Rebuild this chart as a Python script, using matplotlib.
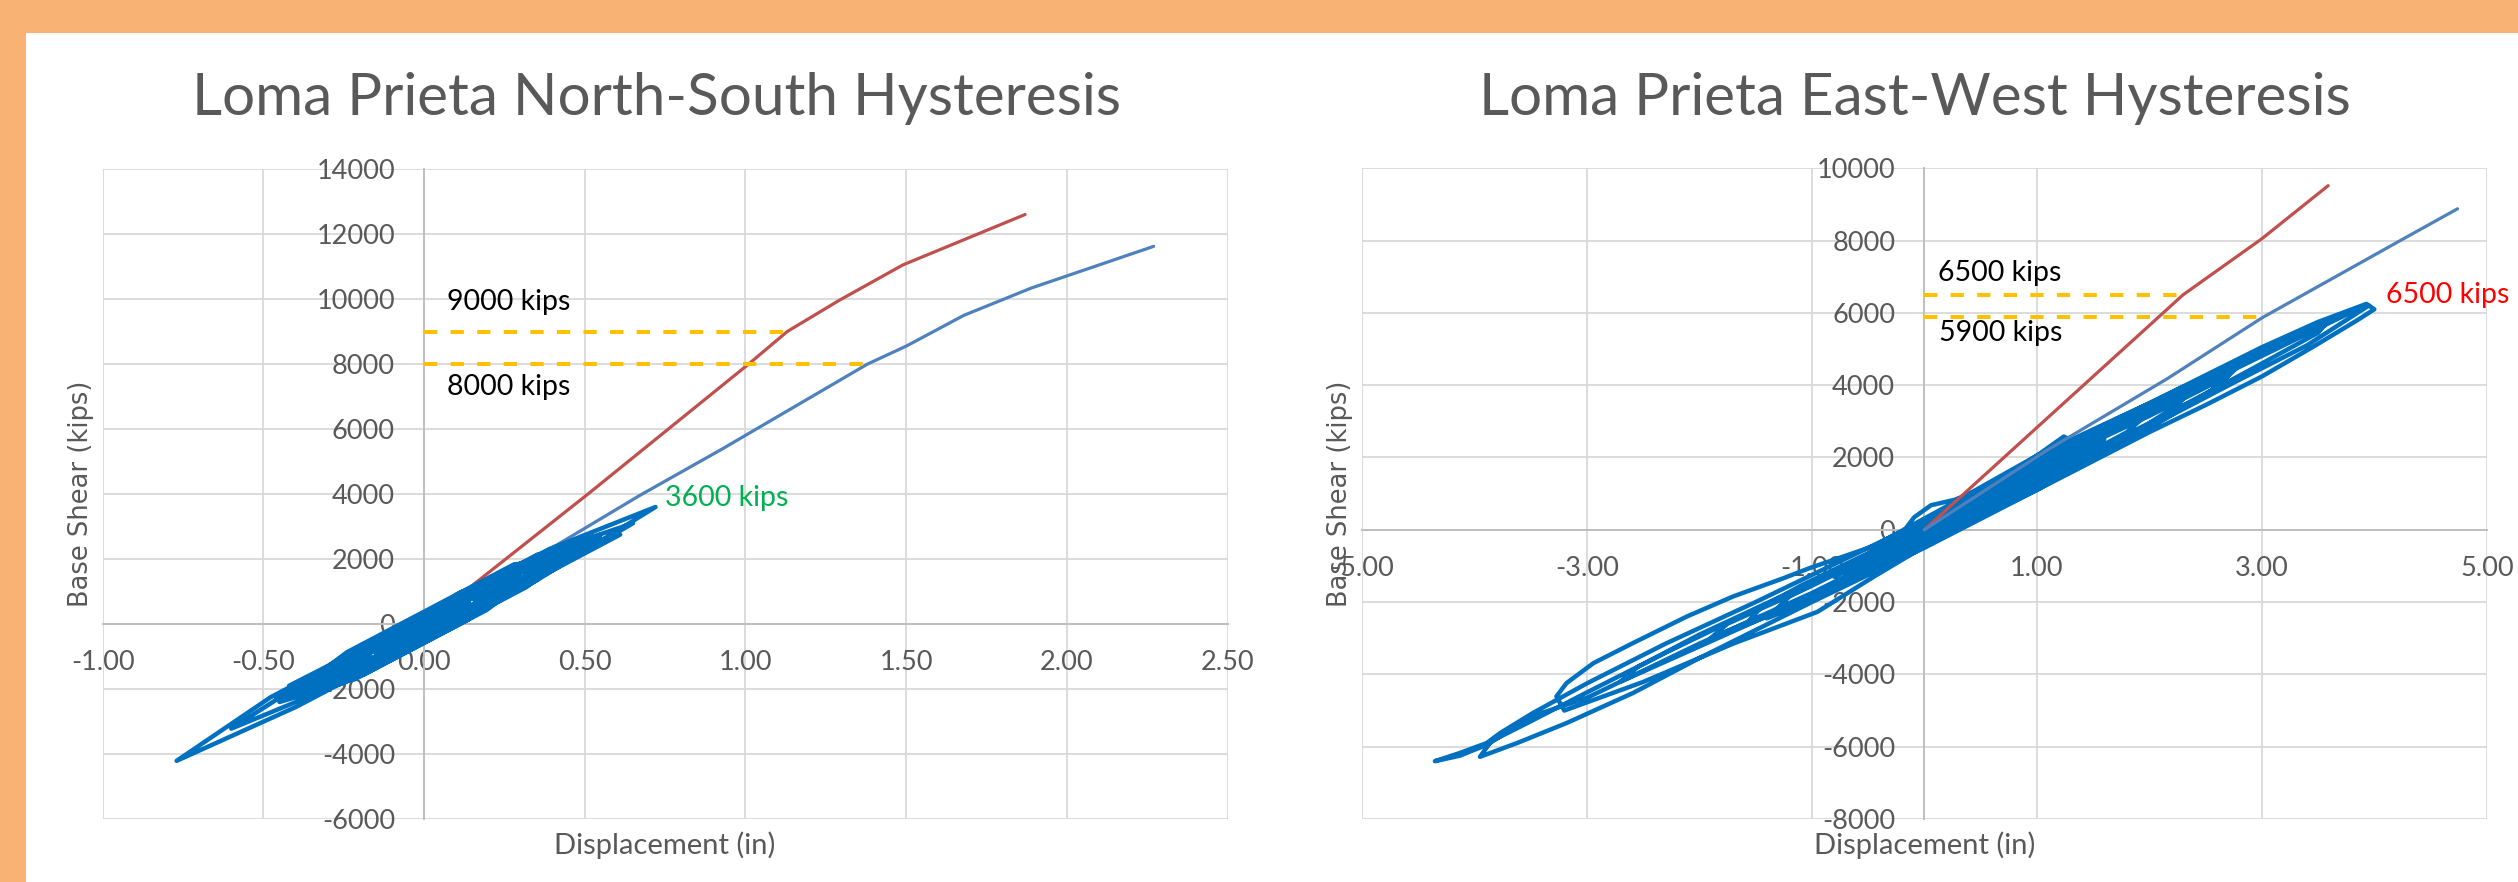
import matplotlib
matplotlib.use("Agg")
import matplotlib.pyplot as plt
from matplotlib.patches import Rectangle

plt.rcParams['font.family'] = ['Lato', 'DejaVu Sans']

# ---------------- data ----------------
# North-South hysteresis (displacement in, base shear kips)
ns_hyst_disp = [0.00, 0.02, 0.06, 0.08, 0.045, -0.025, -0.06, -0.01, 0.09, 0.14,
                0.0675, -0.0775, -0.15, -0.0575, 0.1275, 0.22, 0.11, -0.11, -0.22, -0.09,
                0.17, 0.30, 0.15, -0.15, -0.30, -0.13, 0.21, 0.38, 0.195, -0.175,
                -0.36, -0.1575, 0.2475, 0.45, 0.2325, -0.2025, -0.42, -0.185, 0.285, 0.52,
                0.275, -0.215, -0.46, -0.1925, 0.3425, 0.61, 0.3475, -0.1775, -0.44, -0.1675,
                0.3775, 0.65, 0.3375, -0.2875, -0.60, -0.27, 0.39, 0.72, 0.3475, -0.3975,
                -0.77, -0.4775, 0.1075, 0.40, 0.2125, -0.1625, -0.35, -0.1875, 0.1375, 0.30,
                0.155, -0.135, -0.28, -0.16, 0.08, 0.20, 0.10, -0.10, -0.20, -0.12,
                0.04, 0.12, 0.065, -0.045, -0.10, -0.0625, 0.0125, 0.05, 0.03, -0.01,
                -0.03, 0.0975, 0.3525, 0.48, 0.26, -0.18, -0.40, -0.2125, 0.1625, 0.35,
                0.15, -0.25, -0.45, -0.20, 0.30, 0.55, 0.3175, -0.1475, -0.38, -0.18,
                0.22, 0.42, 0.235, -0.135, -0.32, -0.1775, 0.1075, 0.25, 0.125, -0.125,
                -0.25, -0.1425, 0.0725, 0.18, 0.105, -0.045, -0.12, 0.00, 0.10, 0.28,
                0.40, 0.195, -0.215, -0.42, -0.24, 0.12, 0.30, 0.1375, -0.1875, -0.35,
                -0.2375, -0.0125, 0.10, 0.00]
ns_hyst_shear = [0, 84, 292, 350, 14, -350, -420, -2, 518, 650,
                 71, -683, -900, -179, 783, 1100, 222, -922, -1250, -288,
                 1064, 1500, 380, -1180, -1700, -456, 1312, 1950, 584, -1340,
                 -1950, -579, 1527, 2350, 759, -1503, -1900, -712, 1732, 2700,
                 980, -1568, -2280, -751, 2031, 2750, 1377, -1353, -2300, -641,
                 2193, 3100, 1305, -1945, -3220, -1124, 2308, 3600, 1327, -2547,
                 -4210, -2253, 789, 2000, 705, -1245, -1950, -775, 915, 1450,
                 426, -1082, -1600, -682, 566, 950, 200, -840, -1150, -544,
                 288, 500, 88, -484, -650, -325, 65, 150, -24, -232,
                 -250, 807, 2133, 2400, 852, -1436, -2150, -785, 1165, 1750,
                 260, -1820, -2400, -740, 1860, 2750, 1131, -1287, -2050, -616,
                 1464, 2100, 722, -1202, -1800, -643, 839, 1200, 200, -1100,
                 -1400, -521, 597, 850, 196, -584, -750, -100, 900, 1836,
                 1950, 434, -1698, -2200, -868, 1004, 1450, 135, -1555, -1950,
                 -985, 185, 300, -50]

ns_red_disp = [0.00, 0.13, 0.51, 1.01, 1.13, 1.29, 1.49, 1.87]
ns_red_shear = [0, 1030, 4000, 8000, 9000, 9950, 11050, 12600]

ns_pb_disp = [0.00, 0.44, 0.67, 0.93, 1.38, 1.50, 1.68, 1.89, 2.27]
ns_pb_shear = [0, 2590, 3950, 5400, 8000, 8550, 9500, 10340, 11620]

ns_limits = [9000, 8000]
ns_limit_ends = [1.13, 1.38]

# East-West hysteresis
ew_hyst_disp = [0.00, -0.25, -0.15, -0.09, 0.06, 0.27, 0.60, 1.00, 1.24, 1.32,
                1.10, 0.70, 0.30, 0.00, -0.60, -1.20, -1.60, -1.45, -1.10, -0.50,
                0.20, 1.00, 1.80, 2.40, 2.25, 1.80, 1.00, 0.12, -0.45, -0.95,
                -1.70, -2.50, -3.20, -3.27, -3.18, -2.94, -2.59, -2.11, -1.70, -1.25,
                -1.02, -0.45, 0.20, 1.00, 2.00, 3.00, 3.50, 3.93, 4.00, 3.85,
                3.46, 3.00, 2.50, 2.00, 1.00, 0.00, -1.00, -2.00, -2.59, -3.18,
                -3.62, -3.95, -3.85, -3.50, -3.00, -2.30, -1.50, -0.50, 0.50, 1.50,
                2.50, 3.16, 3.75, 3.95, 3.80, 3.40, 2.80, 2.00, 1.00, 0.00,
                -1.00, -2.00, -3.00, -3.48, -3.89, -4.13, -4.35, -4.13, -3.89, -3.77,
                -3.48, -3.00, -2.30, -1.50, -0.50, 0.50, 1.50, 2.50, 3.20, 3.60,
                3.50, 3.00, 2.20, 1.20, 0.20, -0.80, -1.80, -2.70, -2.55, -2.00,
                -1.00, 0.00, 1.00, 2.00, 2.70, 2.55, 2.00, 1.00, 0.00, -1.00,
                -1.90, -1.75, -1.00, 0.00, 1.00, 1.60, 1.40, 0.60, -0.30, -0.80,
                -0.60, 0.00, 0.50, 1.50, 2.30, 2.80, 2.60, 2.00, 1.00, 0.00,
                -1.00, -1.40, -1.20, -0.50, 0.50, 1.50, 2.00, 1.80, 1.00, 0.00,
                -0.70, -0.50, 0.00]
ew_hyst_shear = [0, -380, 100, 346, 680, 830, 1250, 2050, 2580, 2450,
                 1900, 1050, 250, -350, -1300, -2150, -2650, -2150, -1550, -650,
                 450, 1850, 3050, 3950, 3450, 2550, 1100, -240, -1300, -2270,
                 -3150, -4210, -5000, -4610, -4240, -3687, -3134, -2398, -1845, -1337,
                 -1060, -450, 650, 2050, 3500, 5050, 5750, 6250, 6100, 5800,
                 5070, 4240, 3450, 2700, 1100, -500, -2000, -3550, -4516, -5346,
                 -5899, -6280, -5850, -5300, -4500, -3400, -2200, -700, 900, 2500,
                 4050, 5050, 5950, 6200, 5900, 5100, 4150, 2850, 1350, -200,
                 -1750, -3150, -4650, -5150, -5950, -6250, -6400, -6175, -5899, -5622,
                 -5069, -4250, -3150, -2000, -500, 1000, 2650, 4150, 5250, 5800,
                 5450, 4600, 3250, 1600, 0, -1550, -2950, -4200, -3800, -2900,
                 -1450, 100, 1700, 3150, 4250, 3850, 2950, 1400, -150, -1800,
                 -3000, -2600, -1550, 0, 1550, 2500, 2100, 800, -500, -1300,
                 -900, 0, 1150, 2750, 3950, 4550, 3950, 2800, 1150, -450,
                 -1950, -2450, -1850, -700, 850, 2450, 3250, 2700, 1350, -200,
                 -1200, -700, 0]

ew_red_disp = [0.00, 2.30, 3.00, 3.59]
ew_red_shear = [0, 6500, 8050, 9520]

ew_pb_disp = [0.00, 1.09, 2.16, 3.00, 4.23, 4.74]
ew_pb_shear = [0, 2200, 4180, 5860, 8000, 8880]

ew_limits = [6500, 5900]
ew_limit_ends = [2.27, 2.99]

ns_xticks = [-1.0, -0.5, 0.0, 0.5, 1.0, 1.5, 2.0, 2.5]
ns_yticks = [-6000, -4000, -2000, 0, 2000, 4000, 6000, 8000, 10000, 12000, 14000]
ew_xticks = [-5.0, -3.0, -1.0, 1.0, 3.0, 5.0]
ew_yticks = [-8000, -6000, -4000, -2000, 0, 2000, 4000, 6000, 8000, 10000]

# ---------------- style ----------------
ORANGE = '#F8B274'
GRID = '#D9D9D9'
AXIS = '#BFBFBF'
TXT = '#595959'
HYST = '#0070C0'
RED = '#C0504D'
STEEL = '#4F81BD'
GOLD = '#FFC000'

W, H = 2518, 882
fig = plt.figure(figsize=(W / 100, H / 100), dpi=100, facecolor=ORANGE)
fig.add_artist(Rectangle((26 / W, 0), 1, 1 - 33 / H, transform=fig.transFigure,
                         facecolor='white', edgecolor='none', zorder=0))


def draw_panel(ax, xticks, yticks, hx, hy, rx, ry, px, py, limits, limit_ends,
               pushover_on_top):
    ax.set_facecolor('none')
    ax.set_xlim(xticks[0], xticks[-1])
    ax.set_ylim(yticks[0], yticks[-1])
    ax.set_xticks(xticks)
    ax.set_yticks(yticks)
    ax.set_xticklabels([f'{v:.2f}' for v in xticks])
    ax.set_yticklabels([f'{v:d}' for v in yticks])
    ax.set_axisbelow(True)
    ax.grid(True, color=GRID, linewidth=1.3)
    for s in ('top', 'right'):
        ax.spines[s].set_visible(False)
    for s in ('left', 'bottom'):
        ax.spines[s].set_position(('data', 0))
        ax.spines[s].set_color(AXIS)
        ax.spines[s].set_linewidth(1.4)
        ax.spines[s].set_zorder(0.6)
    ax.tick_params(axis='both', length=0, labelsize=19.5, labelcolor=TXT)
    ax.tick_params(axis='y', pad=21)
    ax.tick_params(axis='x', pad=19)

    z_push = 4 if pushover_on_top else 2
    ax.plot(rx, ry, color=RED, linewidth=2.3, zorder=z_push, solid_capstyle='round')
    ax.plot(px, py, color=STEEL, linewidth=2.3, zorder=z_push, solid_capstyle='round')
    ax.plot(hx, hy, color=HYST, linewidth=3.2, zorder=3,
            solid_joinstyle='round', solid_capstyle='round')
    for lvl, end in zip(limits, limit_ends):
        ax.plot([0, end], [lvl, lvl], color=GOLD, linewidth=2.9,
                dashes=(3.3, 3.3), zorder=5)

    ax.set_ylabel('Base Shear (kips)', family='DejaVu Sans', fontsize=18.5, color=TXT)
    ax.yaxis.set_label_coords(-0.0196, 0.5)
    ax.yaxis.label.set_va('center')
    ax.set_xlabel('Displacement (in)', fontsize=21, color=TXT)
    ax.xaxis.set_label_coords(0.5, -0.04)
    ax.xaxis.label.set_va('center')


ax1 = fig.add_axes([102.7 / W, 1 - 819 / H, 1124.9 / W, 650 / H])
draw_panel(ax1, ns_xticks, ns_yticks, ns_hyst_disp, ns_hyst_shear,
           ns_red_disp, ns_red_shear, ns_pb_disp, ns_pb_shear,
           ns_limits, ns_limit_ends, pushover_on_top=False)
ax1.text(0.07, 9900, '9000 kips', fontsize=20.5, color='black', va='center', ha='left', zorder=6)
ax1.text(0.07, 7300, '8000 kips', fontsize=20.5, color='black', va='center', ha='left', zorder=6)
ax1.text(0.75, 3880, '3600 kips', fontsize=20.5, color='#00B050', va='center', ha='left', zorder=6)

ax2 = fig.add_axes([1361.8 / W, 1 - 819 / H, 1125 / W, 650.7 / H])
draw_panel(ax2, ew_xticks, ew_yticks, ew_hyst_disp, ew_hyst_shear,
           ew_red_disp, ew_red_shear, ew_pb_disp, ew_pb_shear,
           ew_limits, ew_limit_ends, pushover_on_top=True)
ax2.text(0.12, 7100, '6500 kips', fontsize=20.5, color='black', va='center', ha='left', zorder=6)
ax2.text(0.13, 5450, '5900 kips', fontsize=20.5, color='black', va='center', ha='left', zorder=6)
ax2.text(4.10, 6500, '6500 kips', fontsize=20.5, color='#FF0000', va='center', ha='left',
         zorder=6, clip_on=False)

fig.text(656 / W, 1 - 115 / H, 'Loma Prieta North-South Hysteresis', fontsize=42,
         color=TXT, ha='center', va='baseline')
fig.text(1915 / W, 1 - 115 / H, 'Loma Prieta East-West Hysteresis', fontsize=42,
         color=TXT, ha='center', va='baseline')

fig.savefig('out.png', dpi=100, facecolor=ORANGE)
